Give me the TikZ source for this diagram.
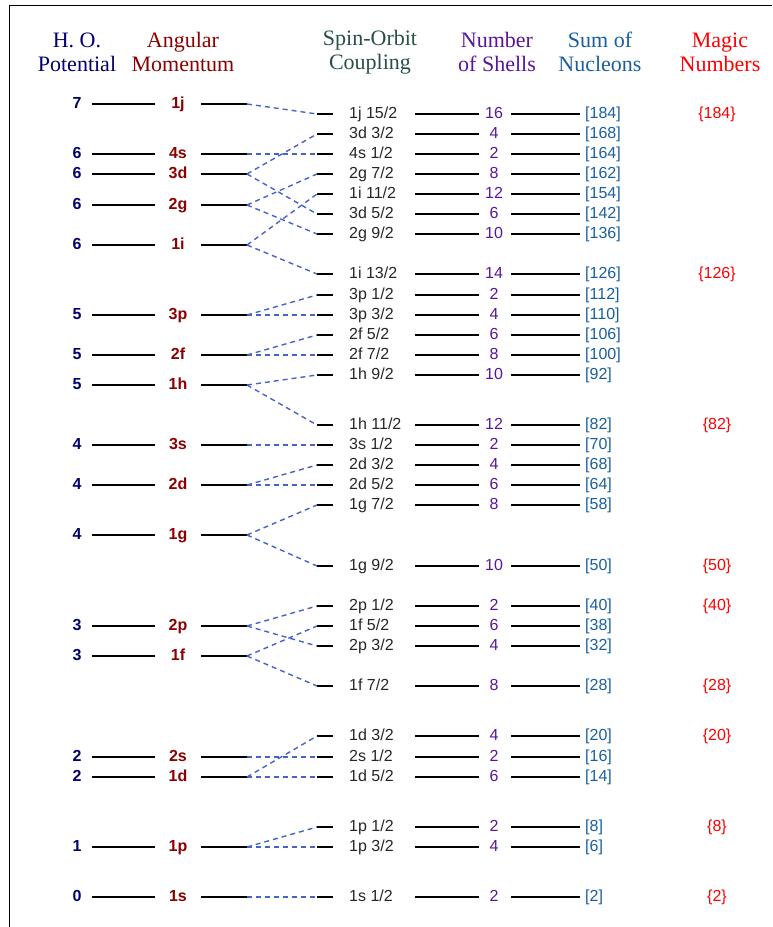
\documentclass[tikz,border=0pt]{standalone}
\usepackage{fontspec}
\setmainfont{Liberation Serif}
\setsansfont{Liberation Sans}
\usepackage{xcolor}
\usepackage{tikz}

\definecolor{hoblue}{RGB}{0,0,110}
\definecolor{angred}{RGB}{140,0,0}
\definecolor{sogreen}{RGB}{40,80,70}
\definecolor{shellpurple}{RGB}{90,20,160}
\definecolor{sumblue}{RGB}{25,95,160}
\definecolor{magicred}{RGB}{255,0,0}
\definecolor{splitblue}{RGB}{70,100,200}

\tikzset{
	hdr/.style={font=\fontsize{22}{24}\selectfont,align=center,inner sep=0pt},
	lbl/.style={font=\sffamily\fontsize{16}{18}\selectfont,inner sep=0pt,anchor=mid,yshift=-2.5pt},
	boldlbl/.style={lbl,font=\sffamily\bfseries\fontsize{16}{18}\selectfont},
	level/.style={line width=1.6pt,black},
	split/.style={splitblue,line width=1.4pt,dash pattern=on 5pt off 4pt}
}

\begin{document}
\begin{tikzpicture}[x=1pt,y=-1pt]
	\useasboundingbox (0,0) rectangle (772,927);
	\draw[line width=0.8pt] (772,5) -- (9,5) -- (9,927);
	% column heads
	\node[hdr,text=hoblue] (headho) at (77,52) {H. O.\\Potential};
	\node[hdr,text=angred] (headang) at (183,52) {Angular\\Momentum};
	\node[hdr,text=sogreen] (headso) at (370,52) {Spin-Orbit\\Coupling};
	\node[hdr,text=shellpurple] (headshell) at (497,52) {Number\\of Shells};
	\node[hdr,text=sumblue] (headsum) at (600,52) {Sum of\\Nucleons};
	\node[hdr,text=magicred] (headmagic) at (720,52) {Magic\\Numbers};
	% oscillator levels
	\foreach \n/\l/\y in {7/1j/104,6/4s/154,6/3d/174,6/2g/205,6/1i/245,5/3p/315,5/2f/355,5/1h/385,
			4/3s/445,4/2d/485,4/1g/535,3/2p/626,3/1f/656,2/2s/757,2/1d/777,1/1p/847,0/1s/897}{
		\node[boldlbl,text=hoblue] (ho-\l) at (77,\y) {\n};
		\node[boldlbl,text=angred] (ang-\l) at (178,\y) {\l};
		\draw[level] (92,\y) -- (155,\y);
		\draw[level] (201,\y) -- (247,\y);
		\coordinate (L-\l) at (247,\y);
	}
	% split levels
	\foreach \s/\j/\y/\n/\t in {1j/15/114/16/184,3d/3/134/4/168,4s/1/154/2/164,2g/7/174/8/162,
			1i/11/194/12/154,3d/5/214/6/142,2g/9/234/10/136,1i/13/274/14/126,3p/1/295/2/112,
			3p/3/315/4/110,2f/5/335/6/106,2f/7/355/8/100,1h/9/375/10/92,1h/11/425/12/82,
			3s/1/445/2/70,2d/3/465/4/68,2d/5/485/6/64,1g/7/505/8/58,1g/9/566/10/50,
			2p/1/606/2/40,1f/5/626/6/38,2p/3/646/4/32,1f/7/686/8/28,1d/3/736/4/20,
			2s/1/757/2/16,1d/5/777/6/14,1p/1/827/2/8,1p/3/847/4/6,1s/1/897/2/2}{
		\coordinate (R-\s-\j) at (317,\y);
		\draw[level] (317,\y) -- (333,\y);
		\node[lbl,anchor=mid west,text=black!85] (so-\s-\j) at (349,\y) {\s\ \j/2};
		\draw[level] (415,\y) -- (479,\y);
		\node[lbl,text=shellpurple] (shell-\s-\j) at (494,\y) {\n};
		\draw[level] (511,\y) -- (580,\y);
		\node[lbl,anchor=mid west,text=sumblue] (sum-\s-\j) at (585,\y) {[\t]};
	}
	% magic numbers
	\foreach \m/\y in {184/114,126/274,82/425,50/566,40/606,28/686,20/736,8/827,2/897}
		\node[lbl,text=magicred] (magic-\m) at (717,\y) {\{\m\}};
	% spin-orbit splitting
	\foreach \a/\b in {1j/1j-15,4s/4s-1,3d/3d-3,3d/3d-5,2g/2g-7,2g/2g-9,1i/1i-11,1i/1i-13,
			3p/3p-1,3p/3p-3,2f/2f-5,2f/2f-7,1h/1h-9,1h/1h-11,3s/3s-1,2d/2d-3,2d/2d-5,
			1g/1g-7,1g/1g-9,2p/2p-1,2p/2p-3,1f/1f-5,1f/1f-7,2s/2s-1,1d/1d-3,1d/1d-5,
			1p/1p-1,1p/1p-3,1s/1s-1}
		\draw[split] (L-\a) -- (R-\b);
\end{tikzpicture}
\end{document}
